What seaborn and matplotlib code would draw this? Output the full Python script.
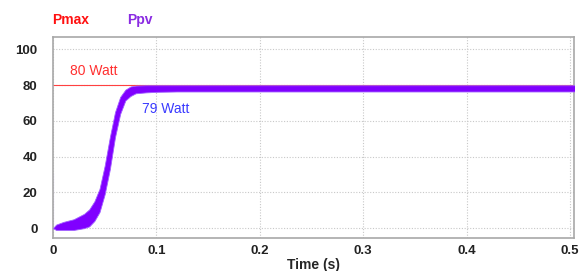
import numpy as np
import matplotlib
matplotlib.use("Agg")
import matplotlib.pyplot as plt
import seaborn as sns

# envelope of the Ppv ripple band
time_s = [0, 0.003, 0.01, 0.02, 0.03, 0.035, 0.04, 0.045, 0.05, 0.055, 0.06,
          0.065, 0.07, 0.075, 0.08, 0.09, 0.1, 0.12, 0.2, 0.3, 0.4, 0.505]
ppv_upper = [0, 2, 3.5, 5, 8, 10.5, 15, 22, 35, 51, 65,
             73.5, 77.5, 79.3, 79.8, 80, 80, 80, 80, 80, 80, 80]
ppv_lower = [0, -1, -1, -1, 0, 1, 4, 9, 19, 33, 51,
             64, 71.5, 74, 75.5, 76, 76.3, 76.5, 76.5, 76.5, 76.5, 76.5]
pmax_t = [0, 0.505]
pmax_p = [80, 80]
spike_t = [0, 0]
spike_p = [0, 31]

x_ticks = [0, 0.1, 0.2, 0.3, 0.4, 0.5]
x_labels = ["0", "0.1", "0.2", "0.3", "0.4", "0.5"]
y_ticks = [0, 20, 40, 60, 80, 100]

sns.set_style("white")
plt.rcParams['font.family'] = ['Liberation Sans', 'DejaVu Sans']

fig = plt.figure(figsize=(5.81, 2.71), dpi=100)
ax = fig.add_axes([0.0912, 0.1218, 0.8968, 0.7417])

purple = "#8000ff"
sns.lineplot(x=pmax_t, y=pmax_p, ax=ax, color="#ff4040", lw=0.8, zorder=2)
ax.fill_between(time_s, ppv_lower, ppv_upper, color=purple, lw=0.6,
                edgecolor="#a060ff", zorder=3)
sns.lineplot(x=spike_t, y=spike_p, ax=ax, color="#c8a0ff", lw=1.2, zorder=3)

ax.set_xlim(0, 0.504)
ax.set_ylim(-5.5, 107)
ax.set_xticks(x_ticks)
ax.set_xticklabels(x_labels)
ax.set_yticks(y_ticks)
ax.tick_params(axis="x", length=0, labelsize=9.5, colors="#222222", pad=5)
ax.tick_params(axis="y", length=0, labelsize=9.5, colors="#222222", pad=11)
for lab in ax.get_xticklabels() + ax.get_yticklabels():
    lab.set_fontweight("bold")
ax.grid(True, ls=(0, (1, 1.5)), color="#c8c8c8", lw=0.8)
for s in ax.spines.values():
    s.set_color("#a8a8a8")
    s.set_linewidth(1.2)

ax.set_xlabel("Time (s)", fontsize=10, fontweight="bold", labelpad=1)

ax.text(0.016, 85.5, "80 Watt", color="#ff3030", fontsize=10)
ax.text(0.086, 64.5, "79 Watt", color="#3a3aff", fontsize=10)

fig.text(0.0895, 0.912, "Pmax", color="#ff1010", fontsize=10, fontweight="bold")
fig.text(0.2186, 0.912, "Ppv", color="#8a2be2", fontsize=10, fontweight="bold")

fig.savefig("out.png", dpi=100)
